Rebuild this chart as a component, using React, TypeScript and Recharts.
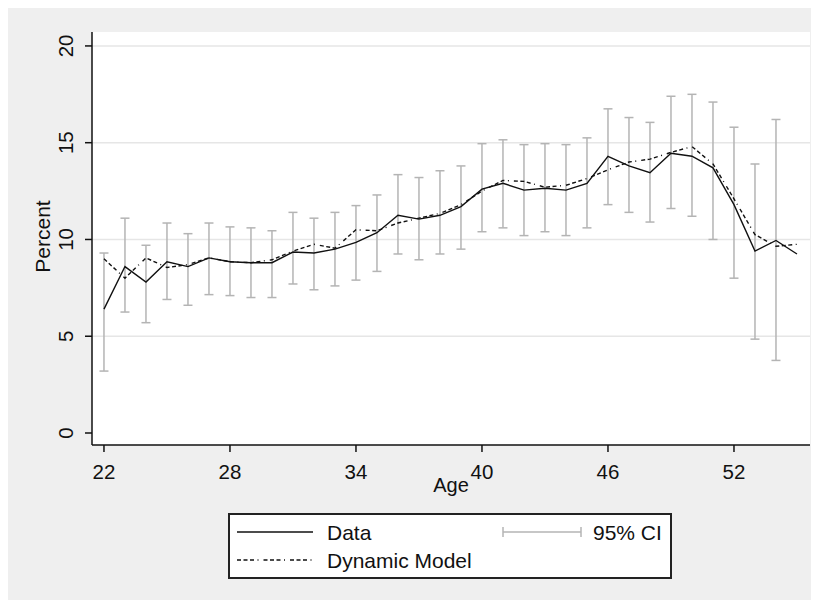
import { CartesianGrid, ComposedChart, ErrorBar, Line, Scatter, XAxis, YAxis } from "recharts"

const ages = [22, 23, 24, 25, 26, 27, 28, 29, 30, 31, 32, 33, 34, 35, 36, 37, 38, 39, 40, 41, 42, 43, 44, 45, 46, 47, 48, 49, 50, 51, 52, 53, 54, 55]

const dataPct = [6.4, 8.6, 7.8, 8.85, 8.6, 9.05, 8.85, 8.8, 8.8, 9.35, 9.3, 9.5, 9.85, 10.35, 11.25, 11.05, 11.25, 11.7, 12.6, 12.9, 12.55, 12.65, 12.55, 12.9, 14.3, 13.8, 13.45, 14.45, 14.3, 13.7, 11.8, 9.4, 9.95, 9.25]

const modelPct = [9.0, 8.0, 9.05, 8.55, 8.7, 9.05, 8.85, 8.8, 8.95, 9.4, 9.75, 9.55, 10.5, 10.45, 10.85, 11.1, 11.35, 11.8, 12.5, 13.05, 13.0, 12.7, 12.8, 13.15, 13.6, 14.0, 14.15, 14.5, 14.8, 13.9, 12.1, 10.25, 9.65, 9.75]

// 95% CI, ages 22..54 (none drawn at 55)
const ciLow = [3.2, 6.25, 5.7, 6.9, 6.6, 7.15, 7.1, 7.0, 7.0, 7.7, 7.4, 7.6, 7.9, 8.35, 9.25, 8.95, 9.25, 9.5, 10.4, 10.6, 10.2, 10.4, 10.2, 10.6, 11.8, 11.4, 10.9, 11.6, 11.2, 10.0, 8.0, 4.85, 3.75]
const ciHigh = [9.3, 11.1, 9.7, 10.85, 10.3, 10.85, 10.65, 10.6, 10.45, 11.4, 11.1, 11.4, 11.75, 12.3, 13.35, 13.2, 13.55, 13.8, 14.95, 15.15, 14.9, 14.95, 14.9, 15.25, 16.75, 16.3, 16.05, 17.4, 17.5, 17.1, 15.8, 13.9, 16.2]

const xTicks = [22, 28, 34, 40, 46, 52]
const yTicks = [0, 5, 10, 15, 20]
const gridValues = [5, 10, 15, 20]

const lineRows = ages.map((age, i) => ({ age, data: dataPct[i], model: modelPct[i] }))
const ciRows = ciLow.map((lo, i) => ({
  age: ages[i],
  mid: dataPct[i],
  err: [dataPct[i] - lo, ciHigh[i] - dataPct[i]],
}))

const font = "'Liberation Sans', Arial, sans-serif"
const ink = "#111"
const ciGray = "#b4b4b4"
const modelDash = "4 2.5 4 2.5 4 3.5 1 5"

const YTick = (props: any) => {
  const { x, y, payload } = props
  return (
    <text
      transform={`translate(${x - 8},${y}) rotate(-90)`}
      textAnchor="middle"
      dy="0.36em"
      fontSize={20.5}
      fontFamily={font}
      fill={ink}
    >
      {payload.value}
    </text>
  )
}

function Legend() {
  return (
    <svg width={444} height={66} style={{ position: "absolute", left: 220, top: 505 }}>
      <rect x={1} y={1} width={442} height={64} fill="#fff" stroke="#222" strokeWidth={2} />
      <line x1={9} x2={85} y1={19} y2={19} stroke={ink} strokeWidth={1.5} />
      <text x={99} y={19} dy="0.36em" fontSize={21} fontFamily={font} fill={ink}>Data</text>
      <line x1={9} x2={85} y1={47} y2={47} stroke={ink} strokeWidth={1.5} strokeDasharray={modelDash} />
      <text x={99} y={47} dy="0.36em" fontSize={21} fontFamily={font} fill={ink}>Dynamic Model</text>
      <line x1={275} x2={353} y1={19} y2={19} stroke={ciGray} strokeWidth={1.5} />
      <line x1={275} x2={275} y1={14} y2={24} stroke={ciGray} strokeWidth={1.5} />
      <line x1={353} x2={353} y1={14} y2={24} stroke={ciGray} strokeWidth={1.5} />
      <text x={365} y={19} dy="0.36em" fontSize={21} fontFamily={font} fill={ink}>95% CI</text>
    </svg>
  )
}

export default function App() {
  return (
    <div style={{ position: "relative", width: 811, height: 592, background: "#efefef" }}>
      <ComposedChart
        width={811}
        height={592}
        data={lineRows}
        margin={{ top: 24, right: 9, left: 0, bottom: 125 }}
      >
        <CartesianGrid
          fill="#fff"
          vertical={false}
          horizontalValues={gridValues}
          stroke="#e6e6e6"
          strokeWidth={1.5}
        />
        <XAxis
          dataKey="age"
          type="number"
          domain={[21.43, 55.62]}
          allowDataOverflow
          ticks={xTicks}
          height={30}
          tickSize={7}
          tickMargin={12}
          axisLine={{ stroke: ink, strokeWidth: 1.5 }}
          tickLine={{ stroke: ink, strokeWidth: 1.5 }}
          tick={{ fill: ink, fontSize: 20.5, fontFamily: font }}
          label={{ value: "Age", position: "bottom", offset: 3, fill: ink, fontSize: 20, fontFamily: font }}
        />
        <YAxis
          type="number"
          domain={[-0.62, 20.72]}
          allowDataOverflow
          ticks={yTicks}
          width={84}
          tickSize={7}
          tickMargin={11}
          axisLine={{ stroke: ink, strokeWidth: 1.5 }}
          tickLine={{ stroke: ink, strokeWidth: 1.5 }}
          tick={<YTick />}
          label={{
            content: (p: any) => (
              <text
                transform={`translate(34.5,${p.viewBox.y + p.viewBox.height / 2 - 2}) rotate(-90)`}
                textAnchor="middle"
                dy="0.36em"
                fontSize={21}
                fontFamily={font}
                fill={ink}
              >
                Percent
              </text>
            ),
          }}
        />
        <Scatter data={ciRows} dataKey="mid" shape={() => <g />} isAnimationActive={false} legendType="none">
          <ErrorBar dataKey="err" direction="y" width={4.5} stroke={ciGray} strokeWidth={1.5} />
        </Scatter>
        <Line
          dataKey="model"
          type="linear"
          stroke={ink}
          strokeWidth={1.4}
          strokeDasharray={modelDash}
          dot={false}
          activeDot={false}
          isAnimationActive={false}
        />
        <Line
          dataKey="data"
          type="linear"
          stroke={ink}
          strokeWidth={1.4}
          dot={false}
          activeDot={false}
          isAnimationActive={false}
        />
      </ComposedChart>
      <Legend />
    </div>
  )
}
